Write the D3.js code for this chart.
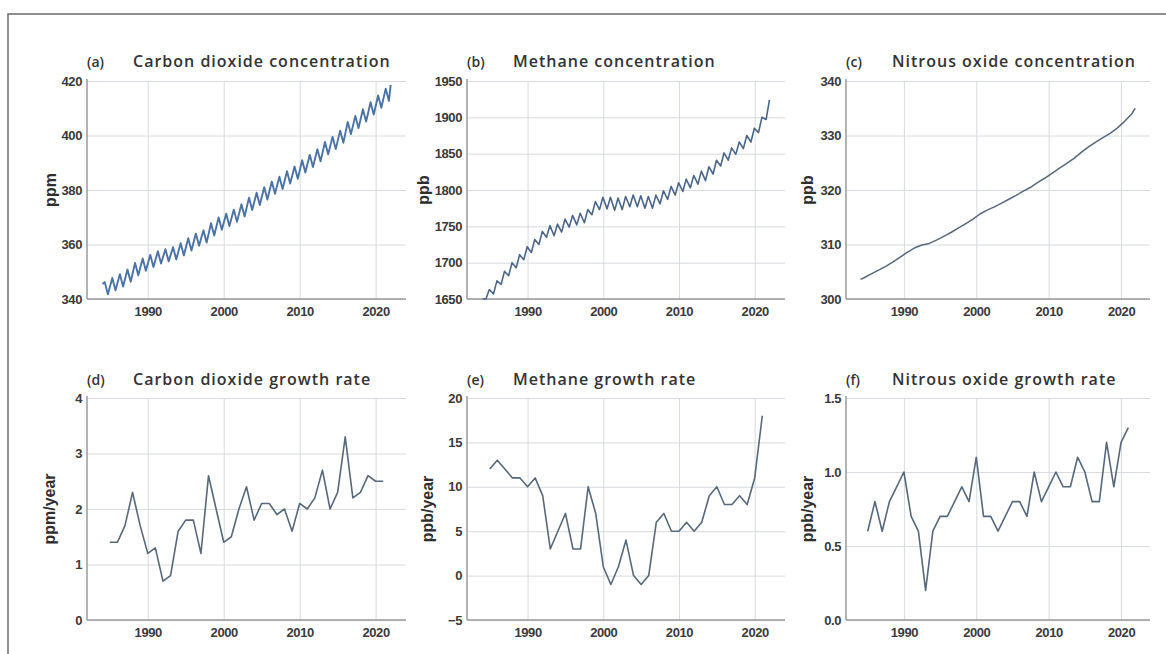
<!DOCTYPE html>
<html><head><meta charset="utf-8">
<script src="https://cdn.jsdelivr.net/npm/d3@7"></script>
<style>
body{margin:0;background:#fff;}
svg{display:block;}
</style></head><body>
<svg id="chart" width="1166" height="654"></svg>
<script>
// ---------------- DATA ----------------
const yearTicks = [1990, 2000, 2010, 2020];
const concYears = [1984,1985,1986,1987,1988,1989,1990,1991,1992,1993,1994,1995,1996,1997,1998,1999,2000,2001,2002,2003,2004,2005,2006,2007,2008,2009,2010,2011,2012,2013,2014,2015,2016,2017,2018,2019,2020,2021];
const rateYears = [1985,1986,1987,1988,1989,1990,1991,1992,1993,1994,1995,1996,1997,1998,1999,2000,2001,2002,2003,2004,2005,2006,2007,2008,2009,2010,2011,2012,2013,2014,2015,2016,2017,2018,2019,2020,2021];

// CO2 (ppm): seasonal high (spring) and low (autumn) of each year
const co2Spring = [346.2,347.7,349.1,350.8,353.2,354.9,356.2,357.5,358.3,359.0,360.5,362.3,364.0,365.2,367.8,369.9,371.3,372.8,374.8,377.2,379.0,381.0,383.1,384.9,386.9,388.6,390.9,392.9,395.0,397.6,399.5,401.8,405.0,407.2,409.6,412.2,414.7,417.2];
const co2Autumn = [341.7,343.2,344.6,346.3,348.7,350.4,351.7,353.0,353.8,354.5,356.0,357.8,359.5,360.7,363.3,365.4,366.8,368.3,370.3,372.7,374.5,376.5,378.6,380.4,382.4,384.1,386.4,388.4,390.5,393.1,395.0,397.3,400.5,402.7,405.1,407.7,410.2,412.7];
const co2Start = 345.5, co2End = 418.6;

// CH4 (ppb): seasonal low (mid-year) and high (end of year)
const ch4Low  = [1650,1657,1670,1682,1693,1704,1714,1725,1735,1737,1742,1749,1752,1755,1766,1773,1774,1772,1773,1777,1777,1775,1775,1781,1787,1793,1798,1803,1808,1813,1822,1833,1841,1849,1857,1866,1879,1897];
const ch4High = [1663,1675,1688,1700,1711,1722,1732,1743,1751,1753,1760,1765,1768,1773,1784,1790,1790,1789,1791,1793,1792,1791,1793,1799,1805,1810,1815,1820,1826,1832,1841,1851,1858,1866,1875,1885,1900,1924];
const ch4Start = 1650;

// N2O (ppb): annual means
const n2oMean = [303.9,304.6,305.3,306.0,306.8,307.7,308.6,309.4,309.9,310.2,310.8,311.5,312.2,313.0,313.8,314.6,315.6,316.3,316.9,317.6,318.3,319.0,319.8,320.5,321.4,322.2,323.1,324.0,324.9,325.8,326.9,327.9,328.8,329.6,330.4,331.4,332.6,334.0];
const n2oStart = 303.6, n2oEnd = 335.0;

// Growth rates
const co2Rate = [1.4,1.4,1.7,2.3,1.7,1.2,1.3,0.7,0.8,1.6,1.8,1.8,1.2,2.6,2.0,1.4,1.5,2.0,2.4,1.8,2.1,2.1,1.9,2.0,1.6,2.1,2.0,2.2,2.7,2.0,2.3,3.3,2.2,2.3,2.6,2.5,2.5];
const ch4Rate = [12,13,12,11,11,10,11,9,3,5,7,3,3,10,7,1,-1,1,4,0,-1,0,6,7,5,5,6,5,6,9,10,8,8,9,8,11,18];
const n2oRate = [0.6,0.8,0.6,0.8,0.9,1.0,0.7,0.6,0.2,0.6,0.7,0.7,0.8,0.9,0.8,1.1,0.7,0.7,0.6,0.7,0.8,0.8,0.7,1.0,0.8,0.9,1.0,0.9,0.9,1.1,1.0,0.8,0.8,1.2,0.9,1.2,1.3];

// Tick labels
const co2Ticks = [340,360,380,400,420];
const ch4Ticks = [1650,1700,1750,1800,1850,1900,1950];
const n2oTicks = [300,310,320,330,340];
const co2RateTicks = [0,1,2,3,4];
const ch4RateTicks = [-5,0,5,10,15,20];
const n2oRateTicks = [0,0.5,1.0,1.5];

// ---------------- SERIES ----------------
const co2Series = [[1984.05, co2Start]];
concYears.forEach((y,i)=>{ co2Series.push([y+0.33, co2Spring[i]]); co2Series.push([y+0.75, co2Autumn[i]]); });
co2Series.push([2021.98, co2End]);

const ch4Series = [[1984.05, ch4Start]];
concYears.forEach((y,i)=>{ ch4Series.push([y+0.5, ch4Low[i]]); ch4Series.push([y+0.95, ch4High[i]]); });

const n2oSeries = [[1984.0, n2oStart]];
concYears.forEach((y,i)=>{ n2oSeries.push([y+0.5, n2oMean[i]]); });
n2oSeries.push([2021.95, n2oEnd]);

const co2RateSeries = rateYears.map((y,i)=>[y, co2Rate[i]]);
const ch4RateSeries = rateYears.map((y,i)=>[y, ch4Rate[i]]);
const n2oRateSeries = rateYears.map((y,i)=>[y, n2oRate[i]]);

// ---------------- LAYOUT ----------------
const row1 = {top:81, bottom:299, titleY:67};
const row2 = {top:398, bottom:620, titleY:385};
const cols = [{left:87, right:406}, {left:467, right:785}, {left:846, right:1150}];

const panels = [
  {tag:'(a)', title:'Carbon dioxide concentration', unit:'ppm', col:0, row:row1, y:[340,420], ticks:co2Ticks, fmt:d3.format('d'), data:co2Series, color:'#4a72a4', width:1.9, labOff:37},
  {tag:'(b)', title:'Methane concentration', unit:'ppb', col:1, row:row1, y:[1650,1950], ticks:ch4Ticks, fmt:d3.format('d'), data:ch4Series, color:'#4a6689', width:1.6, labOff:44},
  {tag:'(c)', title:'Nitrous oxide concentration', unit:'ppb', col:2, row:row1, y:[300,340], ticks:n2oTicks, fmt:d3.format('d'), data:n2oSeries, color:'#56687a', width:1.5, labOff:39},
  {tag:'(d)', title:'Carbon dioxide growth rate', unit:'ppm/year', col:0, row:row2, y:[0,4], ticks:co2RateTicks, fmt:d3.format('d'), data:co2RateSeries, color:'#56687a', width:1.6, labOff:38},
  {tag:'(e)', title:'Methane growth rate', unit:'ppb/year', col:1, row:row2, y:[-5,20], ticks:ch4RateTicks, fmt:d3.format('d'), data:ch4RateSeries, color:'#56687a', width:1.6, labOff:40},
  {tag:'(f)', title:'Nitrous oxide growth rate', unit:'ppb/year', col:2, row:row2, y:[0,1.5], ticks:n2oRateTicks, fmt:d3.format('.1f'), data:n2oRateSeries, color:'#56687a', width:1.6, labOff:39}
];

const svg = d3.select('#chart');
svg.append('rect').attr('width',1166).attr('height',654).attr('fill','#fff');
// outer frame
svg.append('path').attr('d','M8,654 V14 H1166').attr('fill','none').attr('stroke','#6b6b6b').attr('stroke-width',1.5);

const tickFont = '"Liberation Sans", Arial, sans-serif';

panels.forEach(p=>{
  const c = cols[p.col];
  const x = d3.scaleLinear().domain([1982, 2024]).range([c.left, c.right]);
  const y = d3.scaleLinear().domain(p.y).range([p.row.bottom, p.row.top]);
  const w = c.right - c.left, h = p.row.bottom - p.row.top;
  const g = svg.append('g');

  // y axis + horizontal grid
  const ya = g.append('g').attr('transform',`translate(${c.left},0)`)
    .call(d3.axisLeft(y).tickValues(p.ticks).tickFormat(p.fmt).tickSize(-w).tickPadding(5));
  ya.select('.domain').remove();
  ya.selectAll('line').attr('stroke','#d7dade').attr('stroke-width',1);
  ya.selectAll('text').attr('fill','#3a3a3a').style('font-family',tickFont).style('font-size','13px').style('font-weight','bold').style('letter-spacing','-0.4px');

  // x axis + vertical grid
  const xa = g.append('g').attr('transform',`translate(0,${p.row.bottom})`)
    .call(d3.axisBottom(x).tickValues(yearTicks).tickFormat(d3.format('d')).tickSize(-h).tickPadding(8));
  xa.select('.domain').remove();
  xa.selectAll('line').attr('stroke','#d7dade').attr('stroke-width',1);
  xa.selectAll('text').attr('fill','#3a3a3a').style('font-family',tickFont).style('font-size','13px').style('font-weight','bold').style('letter-spacing','-0.4px');

  // axis lines
  g.append('line').attr('x1',c.left).attr('x2',c.left).attr('y1',p.row.top-2).attr('y2',p.row.bottom)
    .attr('stroke','#9a9a9a').attr('stroke-width',1.5);
  g.append('line').attr('x1',c.left).attr('x2',c.right).attr('y1',p.row.bottom).attr('y2',p.row.bottom)
    .attr('stroke','#9a9a9a').attr('stroke-width',1.5);

  // series
  const line = d3.line().x(d=>x(d[0])).y(d=>y(d[1]));
  g.append('path').datum(p.data).attr('d',line).attr('fill','none')
    .attr('stroke',p.color).attr('stroke-width',p.width).attr('stroke-linejoin','round');

  // titles
  g.append('text').attr('x',c.left).attr('y',p.row.titleY).text(p.tag)
    .attr('fill','#333').style('font-family','"Open Sans", sans-serif').style('font-size','14px').style('font-weight','600');
  g.append('text').attr('x',c.left+46).attr('y',p.row.titleY).text(p.title)
    .attr('fill','#333').style('font-family','"Open Sans", sans-serif').style('font-size','16px').style('font-weight','600').style('letter-spacing','1px');

  // unit label
  g.append('text').attr('transform',`translate(${c.left-p.labOff},${(p.row.top+p.row.bottom)/2}) rotate(-90)`)
    .attr('text-anchor','middle').attr('dy','0.35em').text(p.unit)
    .attr('fill','#2e2e2e').style('font-family',tickFont).style('font-size','16px').style('font-weight','bold');
});
</script>
</body></html>
